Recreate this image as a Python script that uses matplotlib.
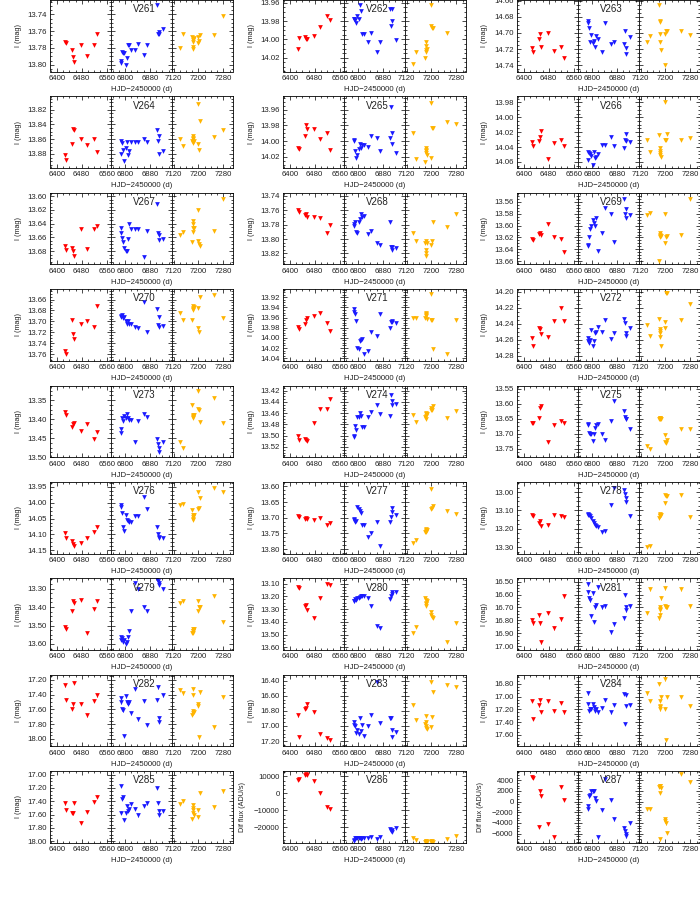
import numpy as np
import matplotlib.pyplot as plt
from matplotlib.ticker import MultipleLocator, AutoMinorLocator, FuncFormatter

plt.rcParams['font.family'] = ['Liberation Sans', 'DejaVu Sans']

nan = np.nan

# observing epochs (HJD-2450000) of the three seasons
t_red = [6427.7, 6428.8, 6448.0, 6453.3, 6455.5, 6476.8, 6498.2, 6520.6, 6529.1]
t_blue = [6786.1, 6787.2, 6789.3, 6792.5, 6796.8, 6804.3, 6806.4, 6808.5, 6811.7, 6818.1,
          6832.0, 6840.5, 6860.8, 6870.4, 6903.5, 6905.6, 6908.8, 6909.9, 6921.6]
t_yellow = [7142, 7149, 7179, 7181, 7182, 7183, 7184, 7185, 7199, 7200, 7202, 7206, 7249, 7280]

names = ['V%d' % n for n in range(261, 288)]

red_vals = [
    [13.773, 13.774, 13.783, 13.791, 13.797, 13.776, 13.789, 13.776, 13.763],
    [14.011, 13.998, 13.997, 13.999, 14.000, 13.996, 13.986, 13.975, 13.979],
    [14.719, 14.724, 14.708, 14.701, 14.718, 14.700, 14.723, 14.717, 14.731],
    [13.882, 13.888, 13.867, 13.846, 13.848, 13.860, 13.868, 13.860, 13.877],
    [14.009, 14.010, 13.994, 13.980, 13.984, 13.985, 13.997, 13.989, 14.011],
    [14.033, 14.039, 14.032, 14.027, 14.018, 14.056, 14.034, 14.031, 14.039],
    [13.672, 13.678, 13.676, 13.680, 13.687, 13.647, 13.677, 13.647, 13.644],
    [13.760, 13.763, 13.767, 13.766, 13.770, 13.770, 13.771, 13.792, 13.780],
    [13.622, 13.624, 13.614, 13.612, 13.616, 13.597, 13.620, 13.622, 13.645],
    [13.755, 13.760, 13.697, 13.723, 13.733, 13.705, 13.700, 13.710, 13.672],
    [13.978, 13.982, 13.972, 13.965, 13.961, 13.956, 13.950, 13.970, 13.987],
    [14.258, 14.268, 14.245, 14.247, 14.253, 14.256, 14.237, 14.221, 14.237],
    [13.382, 13.389, 13.420, 13.413, 13.411, 13.432, 13.412, 13.452, 13.435],
    [13.500, 13.507, 13.505, 13.508, 13.509, 13.477, 13.452, 13.453, 13.435],
    [13.663, 13.666, 13.648, 13.613, 13.608, 13.727, 13.670, 13.658, 13.663],
    [14.095, 14.110, 14.121, 14.131, 14.136, 14.126, 14.110, 14.092, 14.077],
    [13.695, 13.697, 13.704, 13.700, 13.705, 13.707, 13.700, 13.722, 13.716],
    [13.125, 13.130, 13.170, 13.160, 13.185, 13.180, 13.125, 13.130, 13.135],
    [13.51, 13.52, 13.42, 13.37, 13.38, 13.36, 13.54, 13.41, 13.37],
    [13.130, 13.138, 13.280, 13.270, 13.310, 13.370, 13.215, 13.100, 13.115],
    [16.80, 16.82, 16.76, 16.82, 16.97, 16.74, 16.86, 16.79, 16.61],
    [17.27, 17.47, 17.59, 17.53, 17.24, 17.52, 17.68, 17.48, 17.41],
    [16.86, 17.15, 16.77, 16.76, 16.71, 16.81, 17.11, 17.16, 17.18],
    [17.07, 17.35, 17.14, 17.06, 17.24, 17.07, 17.22, 17.10, 17.25],
    [17.43, 17.53, 17.57, 17.58, 17.42, 17.72, 17.56, 17.41, 17.33],
    [8000, 8500, 11000, 11500, 10800, 7000, 0, -8000, -9000],
    [4700, 4400, -4700, 1900, 1100, -4200, -6700, 2800, 300],
]

blue_vals = [
    [13.795, 13.798, 13.785, 13.786, 13.786, 13.800, 13.792, 13.777, 13.776, 13.782, 13.782, 13.775, 13.788, 13.776, 13.729, 13.764, 13.761, 13.764, 13.757],
    [13.978, 13.978, 13.979, 13.982, 13.974, 13.978, 13.963, 13.969, 13.994, 13.994, 14.003, 13.993, 14.014, 14.003, 13.967, 13.985, 13.980, 13.967, 14.001],
    [14.685, 14.688, 14.694, 14.711, 14.703, 14.712, 14.710, 14.717, 14.704, 14.708, 14.724, 14.688, 14.714, 14.711, 14.714, 14.698, 14.719, 14.726, 14.705],
    [13.880, 13.862, 13.865, 13.875, 13.890, 13.872, 13.864, 13.882, 13.876, 13.864, 13.864, 13.864, 13.860, 13.864, 13.847, 13.862, 13.856, 13.880, 13.876],
    [13.999, 14.000, 14.012, 14.021, 14.017, 14.010, 14.003, 14.009, 14.005, 14.005, 14.008, 13.994, 13.996, 14.012, 13.996, 13.956, 14.003, 13.990, 14.015],
    [14.058, 14.046, 14.048, 14.049, 14.052, 14.064, 14.047, 14.055, 14.053, 14.050, 14.037, 14.037, 14.026, 14.038, 14.041, 14.030, 14.022, 14.032, 14.033],
    [13.646, 13.653, 13.661, 13.666, 13.676, 13.679, 13.680, 13.662, 13.641, 13.647, 13.647, 13.647, 13.688, 13.650, 13.612, 13.653, 13.657, 13.664, 13.662],
    [13.782, 13.779, 13.776, 13.790, 13.791, 13.776, 13.772, 13.766, 13.770, 13.768, 13.793, 13.789, 13.805, 13.808, 13.777, 13.811, 13.815, 13.811, 13.812],
    [13.632, 13.635, 13.620, 13.605, 13.600, 13.590, 13.595, 13.600, 13.587, 13.643, 13.613, 13.570, 13.580, 13.628, 13.555, 13.580, 13.573, 13.588, 13.583],
    [13.692, 13.690, 13.688, 13.693, 13.692, 13.700, 13.704, 13.700, 13.705, 13.705, 13.710, 13.713, 13.665, 13.720, 13.678, 13.707, 13.692, 13.710, 13.708],
    [13.943, 13.949, 13.952, 13.966, 14.020, 14.021, 14.006, 14.004, 14.003, 14.032, 14.025, 13.988, 13.996, 13.952, 13.981, 13.968, 13.966, 13.969, 13.971],
    [14.258, 14.262, 14.264, 14.260, 14.248, 14.268, 14.262, 14.252, 14.250, 14.244, 14.250, 14.235, 14.259, 14.252, 14.234, 14.239, 14.255, 14.252, 14.245],
    [13.427, 13.436, 13.398, 13.405, 13.391, 13.398, 13.386, 13.397, 13.402, 13.402, 13.461, 13.405, 13.386, 13.395, 13.453, 13.466, 13.477, 13.486, 13.459],
    [13.500, 13.503, 13.482, 13.490, 13.467, 13.467, 13.460, 13.465, 13.485, 13.485, 13.467, 13.458, 13.445, 13.461, 13.465, 13.428, 13.438, 13.446, 13.443],
    [13.668, 13.672, 13.698, 13.700, 13.702, 13.725, 13.700, 13.680, 13.672, 13.667, 13.702, 13.722, 13.658, 13.590, 13.625, 13.645, 13.650, 13.652, 13.683],
    [14.007, 14.015, 14.033, 14.076, 14.090, 14.038, 14.054, 14.059, 14.062, 14.060, 14.043, 14.043, 13.981, 14.021, 14.076, 14.100, 14.108, 14.112, 14.110],
    [13.705, 13.708, 13.712, 13.710, 13.665, 13.672, 13.680, 13.685, 13.724, 13.724, 13.760, 13.750, 13.713, 13.791, 13.714, 13.697, 13.668, 13.682, 13.692],
    [13.120, 13.125, 13.125, 13.130, 13.140, 13.160, 13.170, 13.180, 13.185, 13.190, 13.220, 13.210, 13.070, 12.975, 12.990, 13.010, 13.030, 13.055, 13.130],
    [13.56, 13.58, 13.57, 13.59, 13.58, 13.60, 13.59, 13.56, 13.53, 13.42, 13.27, 13.30, 13.40, 13.42, 13.25, 13.26, 13.28, 13.27, 13.30],
    [13.235, 13.240, 13.225, 13.230, 13.215, 13.210, 13.205, 13.200, 13.195, 13.195, 13.215, 13.275, 13.430, 13.450, 13.220, 13.195, 13.180, 13.165, 13.165],
    [16.52, 16.58, 16.63, 16.64, 16.77, 16.59, 16.81, 16.70, 16.68, 16.54, 16.70, 16.69, 16.89, 16.83, 16.78, 16.60, 16.70, 16.72, 16.69],
    [17.45, 17.50, 17.60, 17.61, 17.96, 17.42, 17.50, 17.52, 17.50, 17.65, 17.32, 17.73, 17.48, 17.81, 17.47, 17.30, 17.72, 17.77, 17.41],
    [16.95, 16.99, 17.00, 17.09, 17.05, 17.10, 16.89, 17.07, 16.99, 17.13, 17.00, 16.85, 16.42, 16.96, 16.90, 16.89, 17.05, 17.14, 17.08],
    [16.95, 17.12, 17.22, 17.20, 17.19, 17.12, 17.16, 17.23, 17.19, 17.25, 17.18, 17.05, 17.25, 17.13, 16.96, 17.43, 16.97, 17.15, 17.13],
    [17.57, 17.17, 17.36, 17.34, 17.68, 17.57, 17.47, 17.54, 17.52, 17.44, 17.51, 17.61, 17.47, 17.43, 17.20, 17.42, 17.54, 17.60, 17.54],
    [-28000, -27500, -26000, -26500, -26000, -26500, -26000, -27000, -26500, -26500, -26000, -25500, -27000, -25500, -21000, -22000, -22500, -21500, -20500],
    [-1300, -800, 1000, 1300, 2000, 1900, 2000, 600, 100, -6700, -1500, 4200, 300, -3300, -4900, -5500, -6000, -6500, -4000],
]

yellow_vals = [
    [13.780, 13.763, 13.767, 13.779, 13.781, 13.773, 13.770, 13.768, 13.774, 13.767, 13.772, 13.765, 13.765, 13.742],
    [14.027, 14.014, 14.020, 14.014, 14.012, 14.007, 14.003, 14.010, 13.963, 13.985, 13.988, 13.988, 13.993, nan],
    [14.711, 14.704, 14.665, 14.685, 14.687, 14.701, 14.711, 14.721, 14.701, 14.740, 14.697, 14.697, 14.698, 14.703],
    [13.860, 13.869, 13.862, 13.856, 13.860, 13.865, 13.858, 13.862, 13.812, 13.866, 13.875, 13.835, 13.857, 13.848],
    [13.989, 14.023, 14.027, 14.009, 14.011, 14.013, 14.015, 14.018, 13.951, 14.022, 13.983, 13.983, 13.976, 13.978],
    [14.030, 14.046, 14.024, 14.041, 14.045, 14.048, 14.051, 14.054, 13.979, 14.031, 14.031, 14.023, 14.031, 14.028],
    [13.657, 13.652, 13.667, 13.636, 13.641, 13.646, 13.652, 13.646, 13.620, 13.665, 13.669, 13.672, 13.651, 13.604],
    [13.792, 13.803, 13.805, 13.815, 13.820, 13.824, 13.803, 13.806, 13.733, 13.808, 13.803, 13.777, 13.784, 13.765],
    [13.582, 13.579, 13.659, 13.612, 13.616, 13.618, 13.620, 13.617, 13.580, 13.630, 13.619, 13.618, 13.615, 13.555],
    [13.684, 13.697, 13.697, 13.672, 13.676, 13.680, 13.678, 13.674, 13.676, 13.712, 13.720, 13.655, 13.652, 13.693],
    [13.960, 13.960, 13.961, 13.955, 13.950, 13.952, 13.957, 13.962, 13.914, 13.964, 13.964, 14.022, 14.031, 13.965],
    [14.242, 14.255, 14.234, 14.246, 14.249, 14.252, 14.257, 14.268, 14.238, 14.245, 14.202, 14.202, 14.235, 14.215],
    [13.459, 13.477, 13.362, 13.389, 13.392, 13.395, 13.398, 13.390, 13.325, 13.373, 13.377, 13.409, 13.344, 13.411],
    [13.463, 13.475, 13.467, 13.470, 13.462, 13.460, 13.465, 13.462, 13.455, 13.450, 13.455, 13.448, 13.469, 13.456],
    [13.742, 13.750, 13.652, 13.648, 13.650, 13.648, 13.652, 13.650, 13.703, 13.727, 13.730, 13.720, 13.683, 13.683],
    [14.007, 14.004, 14.023, 14.038, 14.045, 14.050, 14.054, 14.040, 13.966, 14.021, 14.018, 13.985, 13.953, 13.968],
    [13.781, 13.772, 13.745, 13.740, 13.735, 13.745, 13.742, 13.738, 13.607, 13.672, 13.670, 13.663, 13.678, 13.687],
    [13.300, 13.295, 13.140, 13.130, 13.125, 13.120, 13.130, 13.125, 13.060, 13.015, 13.020, 13.022, 13.015, 13.135],
    [13.38, 13.37, 13.54, 13.52, 13.53, 13.54, 13.53, 13.52, 13.37, 13.42, 13.40, 13.40, 13.34, 13.48],
    [13.490, 13.440, 13.215, 13.230, 13.250, 13.260, 13.275, 13.240, 13.320, 13.350, 13.360, 13.370, 13.560, 13.410],
    [16.74, 16.56, 16.78, 16.76, 16.71, 16.72, 16.70, 16.63, 16.55, 16.69, 16.70, 16.70, 16.56, 16.69],
    [17.33, 17.38, 17.67, 17.65, 17.32, 17.40, 17.62, 17.63, 17.55, 17.53, 17.98, 17.37, 17.84, 17.43],
    [16.72, 16.92, 16.98, 17.00, 17.03, 16.95, 16.87, 17.04, 16.42, 17.02, 16.88, 16.55, 16.46, 16.48],
    [16.95, 17.07, 16.80, 17.07, 17.17, 17.20, 17.15, 17.00, 16.73, 17.19, 17.68, 17.00, 17.00, 17.15],
    [17.44, 17.39, 17.66, 17.57, 17.45, 17.50, 17.53, 17.60, 17.53, 17.63, nan, 17.27, 17.49, 17.25],
    [-26500, -27500, -28500, -28500, -28000, -28500, -28000, -28300, -28000, -28300, -28000, -28500, -27000, -25000],
    [-1300, -1300, 2800, 3000, 2900, 1600, -7100, 2600, -3300, -3700, -4100, -5800, 5200, 3700],
]

# photometric error per star (mag, or ADU/s for the difference-flux stars)
errs = [0.001, 0.001, 0.001, 0.001, 0.001, 0.001, 0.001, 0.001, 0.001,
        0.001, 0.001, 0.001, 0.002, 0.001, 0.003, 0.003, 0.003, 0.005,
        0.005, 0.005, 0.015, 0.02, 0.015, 0.02, 0.02, 400, 250]

# y ranges (bright end, faint end) and major tick spacing
y_lo = [13.723, 13.957, 14.659, 13.802, 13.943, 13.972, 13.595, 13.736, 13.545,
        13.641, 13.904, 14.197, 13.312, 13.411, 13.540, 13.935, 13.586, 12.945,
        13.245, 13.06, 16.475, 17.13, 16.32, 16.66, 16.95, -29000, -7700]
y_hi = [13.808, 14.035, 14.748, 13.899, 14.034, 14.068, 13.699, 13.835, 13.665,
        13.772, 14.045, 14.286, 13.500, 13.538, 13.778, 14.160, 13.814, 13.335,
        13.632, 13.62, 17.03, 18.10, 17.27, 17.78, 18.02, 13000, 5700]
y_step = [0.02] * 12 + [0.05, 0.02, 0.05, 0.05, 0.05, 0.1, 0.1, 0.1, 0.1,
                        0.2, 0.2, 0.2, 0.2, 10000, 2000]

W, H = 700.0, 900.0
col_left = [50, 283, 517]
seg_w = 61
pan_h = 71.5
pitch = 96.4
xlims = [(6378, 6574), (6755, 6951), (7115, 7311)]
colors = ['#ff0000', '#1a1aff', '#ffb400']
times = [t_red, t_blue, t_yellow]
seasons = [red_vals, blue_vals, yellow_vals]

fig = plt.figure(figsize=(7, 9), dpi=100)

for k, name in enumerate(names):
    r, c = k // 3, k % 3
    top = r * pitch
    flux = k >= 25
    for s in range(3):
        ax = fig.add_axes([(col_left[c] + s * seg_w) / W, 1 - (top + pan_h) / H,
                           seg_w / W, pan_h / H])
        ax.errorbar(times[s], seasons[s][k], yerr=errs[k], fmt='v', ms=3.4,
                    color=colors[s], elinewidth=0.6, capsize=0, mew=0)
        ax.set_xlim(*xlims[s])
        if flux:
            ax.set_ylim(y_lo[k], y_hi[k])
            fmt = FuncFormatter(lambda v, p: ('%d' % round(v)).replace('-', '\u2212'))
        else:
            ax.set_ylim(y_hi[k], y_lo[k])
            fmt = FuncFormatter(lambda v, p: '%.2f' % v)
        ax.xaxis.set_major_locator(MultipleLocator(80))
        ax.xaxis.set_minor_locator(MultipleLocator(20))
        ax.yaxis.set_major_locator(MultipleLocator(y_step[k]))
        ax.yaxis.set_minor_locator(AutoMinorLocator(4))
        ax.yaxis.set_major_formatter(fmt)
        ax.tick_params(which='both', direction='in', top=True, right=True,
                       width=0.5, labelsize=5.6, pad=2.5, labelcolor='#222222')
        ax.tick_params(which='major', length=3)
        ax.tick_params(which='minor', length=1.5)
        for sp in ax.spines.values():
            sp.set_linewidth(0.6)
        if s > 0:
            ax.tick_params(labelleft=False)
        if s == 1:
            ax.text(0.55, 0.87, name, transform=ax.transAxes, ha='center',
                    va='center', fontsize=7, color='#222222')

    fig.text((col_left[c] + 1.5 * seg_w) / W, 1 - (top + pan_h + 18) / H,
             'HJD\u22122450000 (d)', ha='center', va='center', fontsize=5.6,
             color='#222222')
    if flux:
        ylab, dx = 'Dif flux (ADU/s)', (40 if k == 25 else 36)
    else:
        ylab, dx = 'I (mag)', 32
    fig.text((col_left[c] - dx) / W, 1 - (top + pan_h / 2) / H, ylab,
             rotation=90, ha='center', va='center', fontsize=5.2, color='#222222')

fig.savefig('out.png', dpi=100)
